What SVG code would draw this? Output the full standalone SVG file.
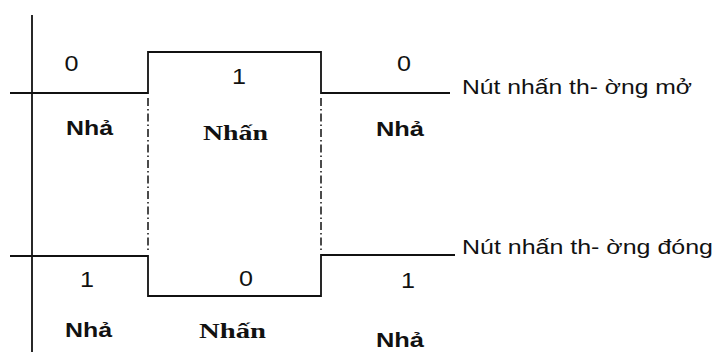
<svg xmlns="http://www.w3.org/2000/svg" width="716" height="352" viewBox="0 0 716 352">
<style>
.ln{fill:none;stroke:#111;stroke-width:1.8;stroke-linejoin:miter}
.dd{fill:none;stroke:#111;stroke-width:1.5;stroke-dasharray:8 3 1.5 3}
.dg{font-family:"Liberation Sans",Arial,sans-serif;font-size:22px;fill:#111;text-anchor:middle}
.nh{font-family:"Liberation Sans",Arial,sans-serif;font-size:21px;font-weight:bold;fill:#111}
.ns{font-family:"Liberation Serif","Times New Roman",serif;font-size:22px;font-weight:bold;fill:#111}
.lb{font-family:"Liberation Sans",Arial,sans-serif;font-size:20px;fill:#111}
</style>
<rect width="716" height="352" fill="#fff"/>
<g id="connectors">
<line class="ln" x1="32" y1="15" x2="32" y2="352"/>
<polyline class="ln" points="10,93 148,93 148,52 321,52 321,93 450,93"/>
<polyline class="ln" points="10,256 148,256 148,296 321,296 321,255 455,255"/>
<line class="dd" x1="148" y1="98" x2="148" y2="252"/>
<line class="dd" x1="321" y1="98" x2="321" y2="252"/>
</g>
<g id="top-row">
<text class="dg" x="71.5" y="71" textLength="14" lengthAdjust="spacingAndGlyphs">0</text>
<text class="dg" x="239" y="84" textLength="14" lengthAdjust="spacingAndGlyphs">1</text>
<text class="dg" x="404" y="71" textLength="14" lengthAdjust="spacingAndGlyphs">0</text>
<text class="nh" x="66" y="135" textLength="47" lengthAdjust="spacingAndGlyphs">Nhả</text>
<text class="ns" x="203" y="140" textLength="65" lengthAdjust="spacingAndGlyphs">Nhấn</text>
<text class="nh" x="376" y="136" textLength="48" lengthAdjust="spacingAndGlyphs">Nhả</text>
<text class="lb" x="462" y="94" textLength="230" lengthAdjust="spacingAndGlyphs">Nút nhấn th- ờng mở</text>
</g>
<g id="bottom-row">
<text class="dg" x="87" y="287" textLength="14" lengthAdjust="spacingAndGlyphs">1</text>
<text class="dg" x="246" y="286" textLength="14" lengthAdjust="spacingAndGlyphs">0</text>
<text class="dg" x="408" y="288" textLength="14" lengthAdjust="spacingAndGlyphs">1</text>
<text class="nh" x="65" y="337" textLength="47" lengthAdjust="spacingAndGlyphs">Nhả</text>
<text class="ns" x="199" y="338" textLength="67" lengthAdjust="spacingAndGlyphs">Nhấn</text>
<text class="nh" x="376" y="347" textLength="48" lengthAdjust="spacingAndGlyphs">Nhả</text>
<text class="lb" x="462" y="254" textLength="251" lengthAdjust="spacingAndGlyphs">Nút nhấn th- ờng đóng</text>
</g>
</svg>
